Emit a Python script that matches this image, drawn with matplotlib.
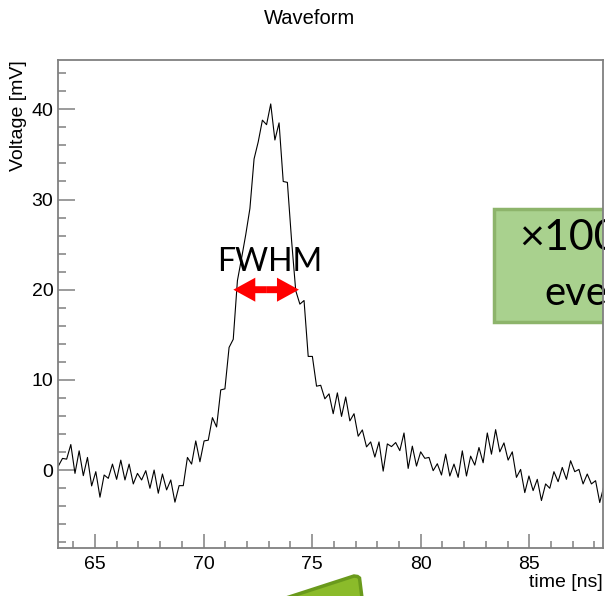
import matplotlib
matplotlib.use("Agg")
import matplotlib.pyplot as plt
import numpy as np
from matplotlib.patches import FancyArrowPatch, Rectangle, Polygon
from matplotlib.ticker import MultipleLocator

plt.rcParams['font.family'] = ['Liberation Sans', 'DejaVu Sans']

# samples, mV
voltage = [
    0.44, 1.29, 1.21, 2.83, -0.37, 2.13, -0.62, 1.40, -1.76, -0.18,
    -3.01, -0.55, -0.92, 0.66, -1.03, 1.10, -1.10, 0.66, -1.54, -0.37,
    -1.10, -0.07, -2.02, 0.00, -2.57, -0.44, -2.20, -1.10, -3.56, -1.73,
    -1.73, 1.40, 0.66, 3.23, 0.92, 3.23, 3.31, 5.81, 4.78, 8.89,
    9.00, 13.6, 14.5, 21.0, 23.5, 26.1, 29.0, 34.5, 36.4, 38.8,
    38.3, 40.6, 36.6, 38.5, 32.0, 31.9, 25.5, 19.9, 18.4, 18.8,
    12.6, 12.6, 9.30, 9.40, 7.90, 8.45, 6.25, 8.56, 5.95, 8.10,
    5.45, 6.25, 3.75, 4.45, 2.57, 3.12, 1.44, 3.12, -0.12, 2.90,
    2.60, 3.05, 2.15, 4.11, 0.18, 2.65, 0.44, 2.02, 1.30, 1.40,
    -0.07, 0.70, -0.55, 1.76, -0.66, 0.66, -0.81, 2.13, -0.66, 1.54,
    0.55, 2.50, 0.81, 4.11, 1.76, 4.48, 2.02, 3.01, 1.10, 2.02,
    -0.81, 0.07, -2.50, -0.66, -2.28, -1.03, -3.38, -1.54, -2.02, -0.18,
    -1.29, 0.29, -1.03, 1.03, -0.18, 0.07, -1.54, -0.44, -1.54, -1.18,
    -3.60, -1.76,
]
t_start = 63.31   # ns
t_step = 0.1918   # ns per sample
time = t_start + t_step * np.arange(len(voltage))

x_range = (63.31, 88.38)
y_range = (-8.68, 45.47)

# full width at half maximum
fwhm_left, fwhm_right, half_max = 71.37, 74.39, 20.0

fig = plt.figure(figsize=(6.05, 5.96), dpi=100)
ax = fig.add_axes([0.0964, 0.0800, 0.8998, 0.8193])
ax.set_facecolor('none')

ax.plot(time, voltage, color='black', lw=0.8, zorder=3)
ax.set_xlim(*x_range)
ax.set_ylim(*y_range)

ax.xaxis.set_major_locator(MultipleLocator(5))
ax.xaxis.set_minor_locator(MultipleLocator(1))
ax.yaxis.set_major_locator(MultipleLocator(10))
ax.yaxis.set_minor_locator(MultipleLocator(2))
ax.tick_params(which='both', direction='in', colors='#808080',
               labelcolor='black', labelsize=14, width=1.1)
ax.tick_params(axis='y', which='major', length=12, pad=3.6)
ax.tick_params(axis='y', which='minor', length=6)
ax.tick_params(axis='x', which='major', length=10.3, pad=5.5)
ax.tick_params(axis='x', which='minor', length=4.8)
for s in ax.spines.values():
    s.set_color('#808080')
    s.set_linewidth(1.3)
    s.set_zorder(8)

fig.text(310 / 605, 1 - 18 / 596, 'Waveform', ha='center', va='center', fontsize=14.5)
fig.text(19 / 605, 1 - 60 / 596, 'Voltage [mV]', rotation=90,
         ha='center', va='top', fontsize=14)
fig.text(602.7 / 605, 1 - 586.7 / 596, 'time [ns]', ha='right',
         va='baseline', fontsize=14)

# FWHM double arrow
mid = (fwhm_left + fwhm_right) / 2
for end in (fwhm_left, fwhm_right):
    ax.add_patch(FancyArrowPatch(
        (mid, half_max), (end, half_max),
        arrowstyle='simple,head_length=15.8,head_width=17.3,tail_width=5',
        mutation_scale=1, color='red', lw=0, shrinkA=0, shrinkB=0, zorder=4))
ax.text(73.06, 22.1, 'FWHM', ha='center', va='baseline', fontsize=23,
        family='Lato', zorder=5)

# green note box, cut at the right edge
ax.add_patch(Rectangle((0.8003, 0.4641), 0.25, 0.2302, transform=ax.transAxes,
                       fc='#A9D18E', ec='#8DB46B', lw=2.5, zorder=6))
ax.text(0.846, 0.611, '×1000', transform=ax.transAxes, fontsize=31,
        family=['Lato', 'DejaVu Sans'], va='baseline', zorder=7)
ax.text(0.893, 0.498, 'events', transform=ax.transAxes, fontsize=29,
        family='Lato', va='baseline', zorder=7)

# tip of the green arrow at the bottom
pts = [(286, 598), (354, 576), (357.5, 576.5), (359.5, 578), (362, 598)]
fig.add_artist(Polygon([(x / 605, 1 - y / 596) for x, y in pts],
                       closed=True, transform=fig.transFigure,
                       fc='#8BBB2A', ec='#6A9A1C', lw=2.5))

fig.savefig('out.png', dpi=100)
